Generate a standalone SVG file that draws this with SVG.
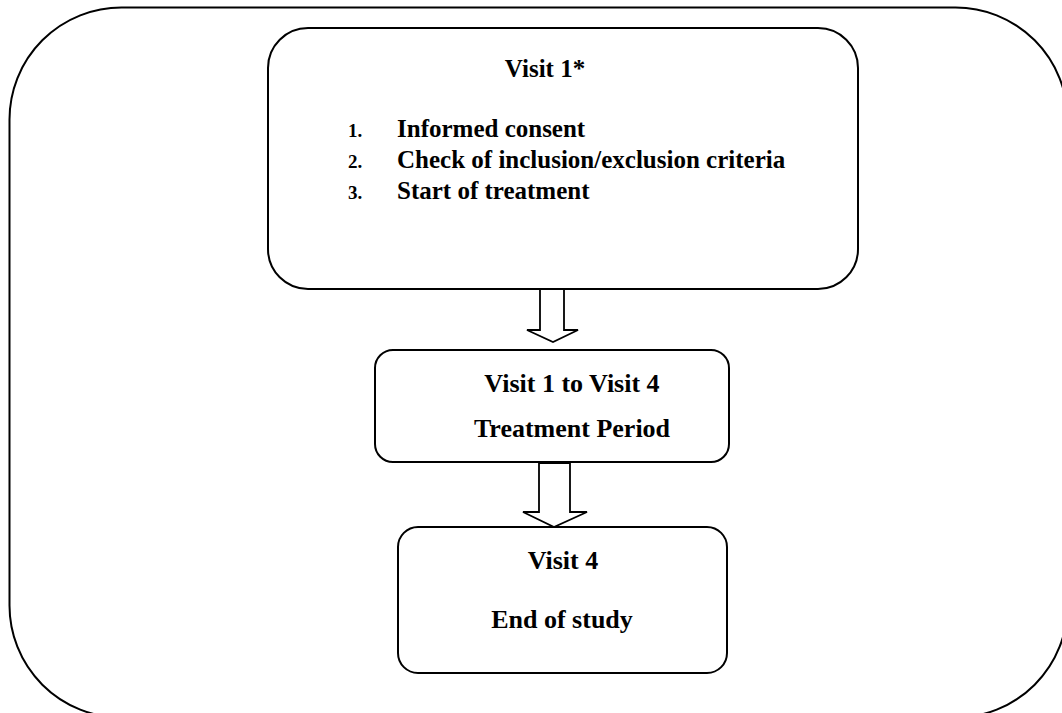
<svg xmlns="http://www.w3.org/2000/svg" width="1062" height="713" viewBox="0 0 1062 713">
<style>
.box{fill:#fff;stroke:#000;stroke-width:2}
.outer{fill:none;stroke:#000;stroke-width:2}
.arrow{fill:#fff;stroke:#000;stroke-width:1.8;stroke-linejoin:miter}
text{font-family:"Liberation Serif","Times New Roman",serif;font-weight:bold;fill:#000}
.t25{font-size:25px}
.t26{font-size:26px}
.num{font-size:19px}
.c{text-anchor:middle}
</style>
<rect width="1062" height="713" fill="#fff"/>
<g id="outer"><rect class="outer" x="9.5" y="7.5" width="1058" height="710" rx="112" ry="112"/></g>
<g id="connectors">
<polygon class="arrow" points="540,289 564,289 564,330 578,330 553,342 527,330 540,330"/>
<polygon class="arrow" points="539,463 570,463 570,512 587,512 554,527 523,512 539,512"/>
</g>
<g id="visit1">
<rect class="box" x="268" y="28" width="590" height="261" rx="40" ry="40"/>
<text class="t25 c" x="545" y="77">Visit 1*</text>
<text class="num" x="348" y="137">1.</text>
<text class="t25" x="397" y="137">Informed consent</text>
<text class="num" x="348" y="168">2.</text>
<text class="t25" x="397" y="168">Check of inclusion/exclusion criteria</text>
<text class="num" x="348" y="199">3.</text>
<text class="t25" x="397" y="199">Start of treatment</text>
</g>
<g id="treatment">
<rect class="box" x="375" y="350" width="354" height="112" rx="18" ry="18"/>
<text class="t26 c" x="572" y="392">Visit 1 to Visit 4</text>
<text class="t26 c" x="572" y="437">Treatment Period</text>
</g>
<g id="visit4">
<rect class="box" x="398" y="527" width="329" height="146" rx="20" ry="20"/>
<text class="t26 c" x="563" y="569">Visit 4</text>
<text class="t26 c" x="562" y="628">End of study</text>
</g>
</svg>
